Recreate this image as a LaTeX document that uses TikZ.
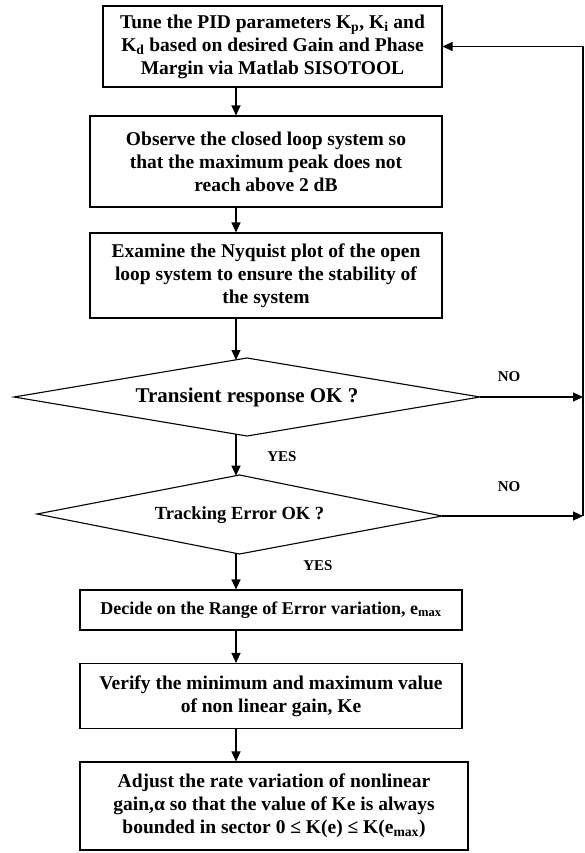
\documentclass[tikz,border=0pt]{standalone}
\usepackage{fontspec}
\setmainfont{Liberation Serif}
\usetikzlibrary{arrows.meta}
\begin{document}
\begin{tikzpicture}[x=1bp,y=-1bp,
  every node/.style={font=\bfseries},
  procbox/.style={draw, line width=1.1bp, align=center, inner sep=0pt,
     font=\fontsize{19.5bp}{23bp}\selectfont\bfseries},
  dectext/.style={inner sep=0pt, align=center},
  lbl/.style={font=\fontsize{15bp}{17bp}\selectfont\bfseries},
  arr/.style={line width=1.1bp, -{Triangle[length=10bp,width=9bp]}},
  ln/.style={line width=1.1bp}]
\useasboundingbox (0,0) rectangle (585,853);
\coordinate (fx) at (236,0);
\coordinate (rx) at (583,0);

\node[procbox, minimum width=339bp, minimum height=81bp] (b1) at (272.5,46.5)
  {Tune the PID parameters K\textsubscript{p}, K\textsubscript{i} and\\
   K\textsubscript{d} based on desired Gain and Phase\\
   Margin via Matlab SISOTOOL};
\node[procbox, minimum width=352bp, minimum height=91bp] (b2) at (266,161.5)
  {Observe the closed loop system so\\
   that the maximum peak does not\\
   reach above 2 dB};
\node[procbox, minimum width=352bp, minimum height=85bp] (b3) at (266,275.5)
  {Examine the Nyquist plot of the open\\
   loop system to ensure the stability of\\
   the system};

% diamond 1
\coordinate (d1w) at (14,397);
\coordinate (d1n) at (247,358);
\coordinate (d1e) at (480,397);
\coordinate (d1s) at (247,436);
\draw[ln] (d1w) -- (d1n) -- (d1e) -- (d1s) -- cycle;
\node[dectext, font=\fontsize{21bp}{24bp}\selectfont\bfseries] (d1) at (247,397)
  {Transient response OK ?};
\coordinate (d1in) at (236,360);
\coordinate (d1out) at (236,434.2);

% diamond 2
\coordinate (d2w) at (37,514);
\coordinate (d2n) at (239.5,475);
\coordinate (d2e) at (442,516);
\coordinate (d2s) at (239.5,554);
\draw[ln] (d2w) -- (d2n) -- (d2e) -- (d2s) -- cycle;
\node[dectext, font=\fontsize{18.5bp}{22bp}\selectfont\bfseries] (d2) at (239.5,515)
  {Tracking Error OK ?};
\coordinate (d2in) at (236,475.7);
\coordinate (d2out) at (236,553.3);

\node[procbox, minimum width=382bp, minimum height=40bp,
      font=\fontsize{18bp}{21bp}\selectfont\bfseries] (b4) at (271,610)
  {Decide on the Range of Error variation, e\textsubscript{max}};
\node[procbox, minimum width=382bp, minimum height=65bp] (b5) at (271,696)
  {Verify the minimum and maximum value\\
   of non linear gain, Ke};
\node[procbox, minimum width=388bp, minimum height=88bp] (b6) at (274,806)
  {Adjust the rate variation of nonlinear\\
   gain,α so that the value of Ke is always\\
   bounded in sector 0 ≤ K(e) ≤ K(e\textsubscript{max})};

% main flow
\draw[arr] (b1.south -| fx) -- (b2.north -| fx);
\draw[arr] (b2.south -| fx) -- (b3.north -| fx);
\draw[arr] (b3.south -| fx) -- (d1in);
\draw[arr] (d1out) -- (d2in);
\draw[arr] (d2out) -- (b4.north -| fx);
\draw[arr] (b4.south -| fx) -- (b5.north -| fx);
\draw[arr] (b5.south -| fx) -- (b6.north -| fx);

% NO branches and feedback
\draw[arr] (d1e) -- (d1e -| rx);
\draw[arr] (d2e) -- (d2e -| rx);
\draw[arr] (d2e -| rx) -- (rx |- b1.east) -- (b1.east);

% labels
\node[lbl] (no1) at (509,377) {NO};
\node[lbl] (no2) at (509,487) {NO};
\node[lbl] (yes1) at (282,457) {YES};
\node[lbl] (yes2) at (318,566) {YES};
\end{tikzpicture}
\end{document}
